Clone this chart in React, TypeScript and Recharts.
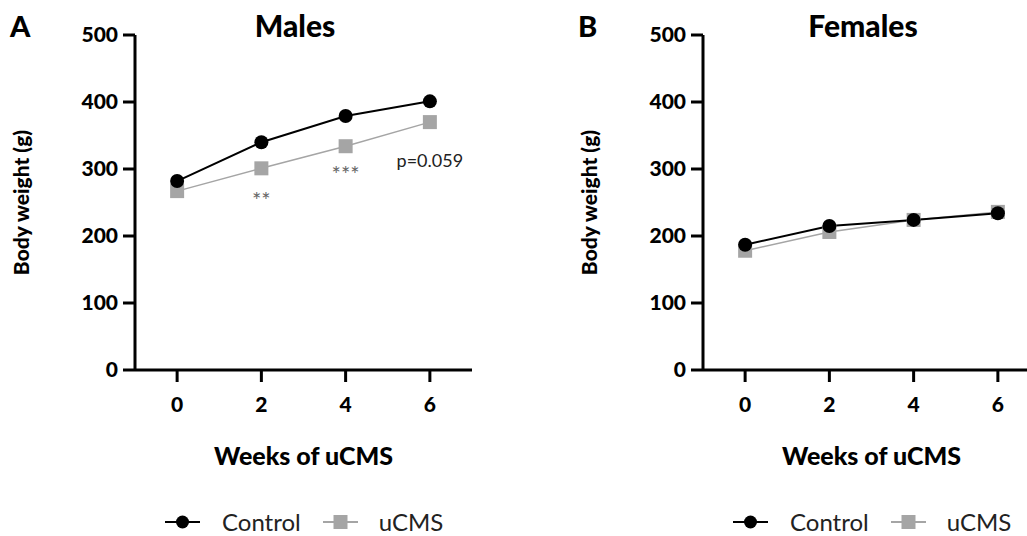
import { LineChart, Line, XAxis, YAxis, ReferenceDot } from 'recharts'

const WEEKS = [0, 2, 4, 6]
const Y_TICKS = [0, 100, 200, 300, 400, 500]

const MALES_CONTROL = [282, 340, 379, 401]
const MALES_UCMS = [267, 301, 334, 370]
const FEMALES_CONTROL = [187, 215, 224, 234]
const FEMALES_UCMS = [178, 206, 224, 236]

// significance marks on the males panel (week, y value, text)
const MALES_NOTES_WEEK = [2, 4, 6]
const MALES_NOTES_Y = [254, 292, 313]
const MALES_NOTES_TEXT = ['**', '***', 'p=0.059']

const FONT = 'Lato, "DejaVu Sans", sans-serif'
const GREY = '#a5a5a5'

function CircleDot(props: any) {
  const { cx, cy } = props
  if (cx == null || cy == null) return null
  return <circle cx={cx} cy={cy} r={7} fill="#000" />
}

function SquareDot(props: any) {
  const { cx, cy } = props
  if (cx == null || cy == null) return null
  return <rect x={cx - 7} y={cy - 7} width={14} height={14} fill={GREY} />
}

function LegendRow() {
  return (
    <div style={{ display: 'flex', alignItems: 'center', fontSize: 24, color: '#222', fontFamily: FONT }}>
      <svg width={35} height={16}>
        <line x1={0} y1={8} x2={35} y2={8} stroke="#000" strokeWidth={2} />
        <circle cx={17.5} cy={8} r={6.5} fill="#000" />
      </svg>
      <span style={{ marginLeft: 22 }}>Control</span>
      <svg width={35} height={16} style={{ marginLeft: 22 }}>
        <line x1={0} y1={8} x2={35} y2={8} stroke={GREY} strokeWidth={2} />
        <rect x={10.5} y={1} width={14} height={14} fill={GREY} />
      </svg>
      <span style={{ marginLeft: 21 }}>uCMS</span>
    </div>
  )
}

interface PanelProps {
  letter: string
  title: string
  control: number[]
  ucms: number[]
  notesWeek?: number[]
  notesY?: number[]
  notesText?: string[]
  left: number
}

function Panel({ letter, title, control, ucms, notesWeek = [], notesY = [], notesText = [], left }: PanelProps) {
  const data = WEEKS.map((w, i) => ({ week: w, control: control[i], ucms: ucms[i] }))
  const tickStyle = { fill: '#000', fontSize: 21, fontWeight: 900, fontFamily: FONT }
  return (
    <div style={{ position: 'absolute', left, top: 0, width: 500, height: 536 }}>
      <LineChart width={500} height={536} data={data} margin={{ top: 35, right: 28, bottom: 66, left: 0 }}>
        <XAxis
          dataKey="week"
          type="number"
          domain={[-1, 7]}
          ticks={WEEKS}
          tick={tickStyle}
          axisLine={{ stroke: '#000', strokeWidth: 3 }}
          tickLine={{ stroke: '#000', strokeWidth: 3 }}
          tickSize={12}
          tickMargin={15}
          height={100}
          label={{ value: 'Weeks of uCMS', position: 'insideBottom', offset: 5, style: { fill: '#000', fontSize: 25, fontWeight: 900, fontFamily: FONT } }}
        />
        <YAxis
          domain={[0, 500]}
          ticks={Y_TICKS}
          tick={tickStyle}
          axisLine={{ stroke: '#000', strokeWidth: 3 }}
          tickLine={{ stroke: '#000', strokeWidth: 3 }}
          tickSize={12}
          tickMargin={5}
          width={135}
          label={{ value: 'Body weight (g)', angle: -90, position: 'insideLeft', offset: 22, style: { textAnchor: 'middle', fill: '#000', fontSize: 21, fontWeight: 900, fontFamily: FONT } }}
        />
        <Line dataKey="ucms" stroke={GREY} strokeWidth={1.5} dot={<SquareDot />} activeDot={false} isAnimationActive={false} />
        <Line dataKey="control" stroke="#000" strokeWidth={2} dot={<CircleDot />} activeDot={false} isAnimationActive={false} />
        {notesWeek.map((w, i) => (
          <ReferenceDot
            key={i}
            x={w}
            y={notesY[i]}
            r={0}
            fill="none"
            stroke="none"
            label={{ value: notesText[i], position: 'center', fill: i < 2 ? '#666' : '#222', fontSize: i < 2 ? 22 : 18, fontFamily: FONT }}
          />
        ))}
      </LineChart>
      <div style={{ position: 'absolute', left: 10, top: 8, fontSize: 29, fontWeight: 900, fontFamily: FONT }}>{letter}</div>
      <div style={{ position: 'absolute', left: 135, width: 320, textAlign: 'center', top: 7, fontSize: 30, fontWeight: 900, fontFamily: FONT }}>{title}</div>
      <div style={{ position: 'absolute', left: 165, top: 507 }}>
        <LegendRow />
      </div>
    </div>
  )
}

export default function App() {
  return (
    <div style={{ position: 'absolute', left: 0, top: 0, width: 1027, height: 536, overflow: 'hidden', background: '#fff' }}>
      <Panel letter="A" title="Males" control={MALES_CONTROL} ucms={MALES_UCMS}
        notesWeek={MALES_NOTES_WEEK} notesY={MALES_NOTES_Y} notesText={MALES_NOTES_TEXT} left={0} />
      <Panel letter="B" title="Females" control={FEMALES_CONTROL} ucms={FEMALES_UCMS} left={568} />
    </div>
  )
}
